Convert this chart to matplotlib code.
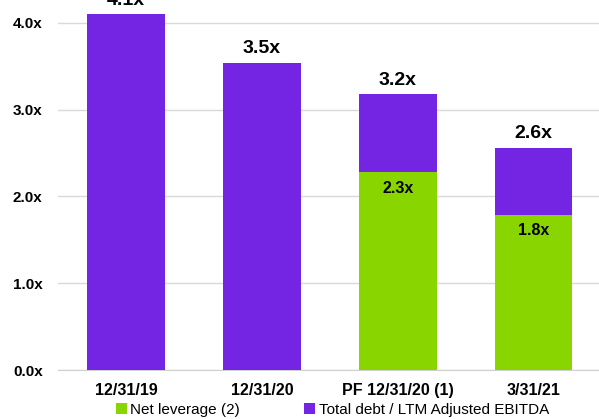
import matplotlib
matplotlib.use("Agg")
import matplotlib.pyplot as plt
import numpy as np

categories = ["12/31/19", "12/31/20", "PF 12/31/20 (1)", "3/31/21"]
total_debt = [4.10, 3.54, 3.18, 2.56]
net_leverage = [0.0, 0.0, 2.28, 1.79]
yticks = [0.0, 1.0, 2.0, 3.0, 4.0]

purple = "#7325E3"
green = "#88D500"

plt.rcParams['font.family'] = ['Liberation Sans', 'DejaVu Sans']

fig = plt.figure(figsize=(5.99, 4.19), dpi=100)
ax = fig.add_axes([58/599, 49/419, 541/599, 370/419])

x = np.arange(len(categories))
w = 0.57
net = np.array(net_leverage)
tot = np.array(total_debt)
ax.bar(x, net, width=w, color=green, zorder=3, label="Net leverage (2)")
ax.bar(x, tot - net, bottom=net, width=w, color=purple, zorder=3,
       label="Total debt / LTM Adjusted EBITDA")

for xi, t in zip(x, tot):
    ax.annotate(f"{t:.1f}x", (xi, t), xytext=(0, 4), textcoords="offset points",
                ha="center", va="bottom", fontsize=14, fontweight="bold",
                annotation_clip=False)
for xi, n in zip(x, net):
    if n > 0:
        ax.annotate(f"{n:.1f}x", (xi, n), xytext=(0, -6), textcoords="offset points",
                    ha="center", va="top", fontsize=11.5, fontweight="bold")

ax.set_xlim(-0.5, 3.48)
ax.set_ylim(0, 370/86.75)
ax.set_yticks(yticks)
ax.set_yticklabels([f"{v:.1f}x" for v in yticks], fontsize=11, fontweight="bold")
ax.set_xticks(x)
ax.set_xticklabels(categories, fontsize=11.5, fontweight="bold")
ax.tick_params(axis="both", length=0)
ax.tick_params(axis="y", pad=11)
ax.tick_params(axis="x", pad=9)
ax.grid(axis="y", color="#d9d9d9", linewidth=1, zorder=0)
for s in ["left", "right", "top"]:
    ax.spines[s].set_visible(False)
ax.spines["bottom"].set_color("#d0d0d0")

leg = fig.legend(loc="center", bbox_to_anchor=(0.555, 9/419), ncol=2, frameon=False,
                 fontsize=11, handlelength=0.7, handleheight=0.7, handletextpad=0.25,
                 columnspacing=4.2, borderpad=0)

fig.savefig("out.png", dpi=100)
